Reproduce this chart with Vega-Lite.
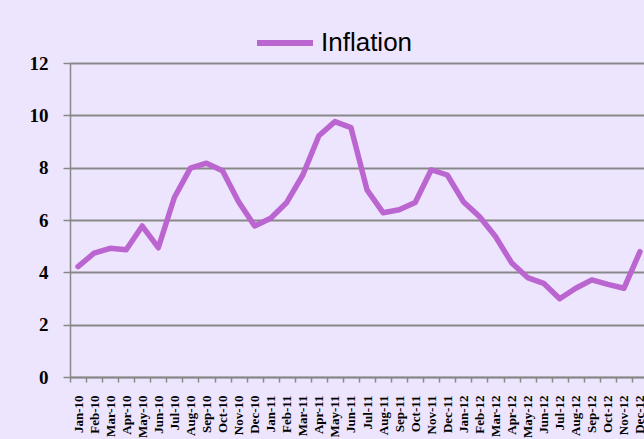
{
  "$schema": "https://vega.github.io/schema/vega-lite/v6.json",
  "autosize": {"type": "none"},
  "padding": {"left": 70, "top": 63, "right": 0, "bottom": 62},
  "width": 574,
  "height": 314,
  "background": "#EDE5FD",
  "config": {"view": {"stroke": null}},
  "data": {"values": [
    {"month": "Jan-10", "inflation": 4.22},
    {"month": "Feb-10", "inflation": 4.73},
    {"month": "Mar-10", "inflation": 4.92},
    {"month": "Apr-10", "inflation": 4.86},
    {"month": "May-10", "inflation": 5.77},
    {"month": "Jun-10", "inflation": 4.94},
    {"month": "Jul-10", "inflation": 6.86},
    {"month": "Aug-10", "inflation": 7.98},
    {"month": "Sep-10", "inflation": 8.17},
    {"month": "Oct-10", "inflation": 7.88},
    {"month": "Nov-10", "inflation": 6.70},
    {"month": "Dec-10", "inflation": 5.77},
    {"month": "Jan-11", "inflation": 6.07},
    {"month": "Feb-11", "inflation": 6.67},
    {"month": "Mar-11", "inflation": 7.72},
    {"month": "Apr-11", "inflation": 9.22},
    {"month": "May-11", "inflation": 9.76},
    {"month": "Jun-11", "inflation": 9.53},
    {"month": "Jul-11", "inflation": 7.15},
    {"month": "Aug-11", "inflation": 6.28},
    {"month": "Sep-11", "inflation": 6.39},
    {"month": "Oct-11", "inflation": 6.67},
    {"month": "Nov-11", "inflation": 7.92},
    {"month": "Dec-11", "inflation": 7.72},
    {"month": "Jan-12", "inflation": 6.70},
    {"month": "Feb-12", "inflation": 6.13},
    {"month": "Mar-12", "inflation": 5.37},
    {"month": "Apr-12", "inflation": 4.37},
    {"month": "May-12", "inflation": 3.80},
    {"month": "Jun-12", "inflation": 3.58},
    {"month": "Jul-12", "inflation": 2.99},
    {"month": "Aug-12", "inflation": 3.39},
    {"month": "Sep-12", "inflation": 3.71},
    {"month": "Oct-12", "inflation": 3.54},
    {"month": "Nov-12", "inflation": 3.39},
    {"month": "Dec-12", "inflation": 4.79}
  ]},
  "mark": {"type": "line", "strokeWidth": 5.5, "strokeCap": "round", "strokeJoin": "round"},
  "encoding": {
    "x": {
      "field": "month",
      "type": "ordinal",
      "sort": null,
      "bandPosition": 0.5,
      "scale": {"type": "band", "range": [0, 578], "paddingInner": 0, "paddingOuter": 0},
      "axis": {
        "title": null,
        "labelAngle": -90,
        "labelAlign": "right",
        "labelBaseline": "middle",
        "labelFont": "Liberation Serif",
        "labelFontWeight": "bold",
        "labelFontSize": 13,
        "labelColor": "#000000",
        "labelPadding": 13,
        "labelOverlap": false,
        "tickBand": "extent",
        "tickSize": 5,
        "tickColor": "#888888",
        "tickWidth": 1.5,
        "domainColor": "#888888",
        "domainWidth": 1.5,
        "grid": false
      }
    },
    "y": {
      "field": "inflation",
      "type": "quantitative",
      "scale": {"domain": [0, 12], "nice": false, "zero": true},
      "axis": {
        "title": null,
        "values": [0, 2, 4, 6, 8, 10, 12],
        "labelFont": "Liberation Serif",
        "labelFontWeight": "bold",
        "labelFontSize": 19,
        "labelColor": "#000000",
        "labelPadding": 15,
        "tickSize": 7,
        "tickColor": "#888888",
        "tickWidth": 1.5,
        "domainColor": "#888888",
        "domainWidth": 1.5,
        "grid": true,
        "gridColor": "#888888",
        "gridWidth": 1.8,
        "gridOpacity": 1
      }
    },
    "color": {
      "datum": "Inflation",
      "type": "nominal",
      "scale": {"range": ["#BB66D0"]},
      "legend": {
        "title": null,
        "orient": "none",
        "legendX": 184,
        "legendY": -51,
        "padding": 0,
        "symbolType": "stroke",
        "symbolSize": 3136,
        "symbolStrokeWidth": 6,
        "labelFont": "Liberation Sans",
        "labelFontSize": 26,
        "labelColor": "#000000",
        "labelOffset": 5,
        "labelLimit": 300
      }
    }
  }
}
